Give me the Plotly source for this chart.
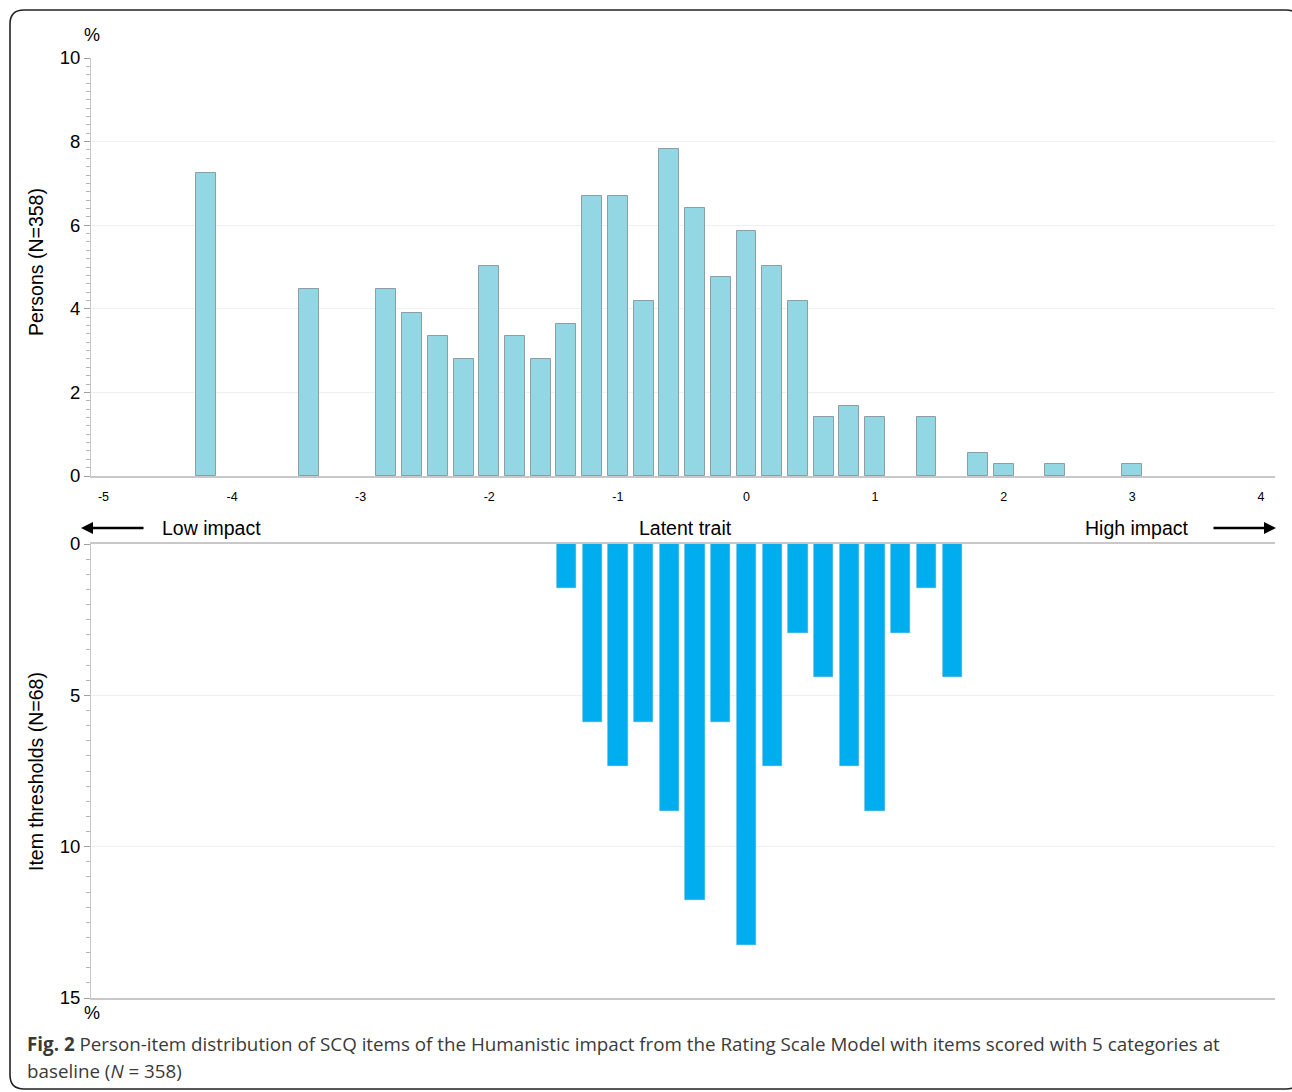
import plotly.graph_objects as go

# Person locations (latent trait bins, logits) and percentage of persons per bin
person_bins = [-4.2, -3.4, -2.8, -2.6, -2.4, -2.2, -2.0, -1.8, -1.6, -1.4, -1.2, -1.0, -0.8,
               -0.6, -0.4, -0.2, 0.0, 0.2, 0.4, 0.6, 0.8, 1.0, 1.4, 1.8, 2.0, 2.4, 3.0]
person_pct = [7.26, 4.47, 4.47, 3.91, 3.35, 2.79, 5.03, 3.35, 2.79, 3.63, 6.70, 6.70, 4.19,
              7.82, 6.42, 4.75, 5.87, 5.03, 4.19, 1.40, 1.68, 1.40, 1.40, 0.56, 0.28, 0.28, 0.28]

# Item threshold locations and percentage of thresholds per bin
item_bins = [-1.4, -1.2, -1.0, -0.8, -0.6, -0.4, -0.2, 0.0, 0.2, 0.4, 0.6, 0.8, 1.0, 1.2, 1.4, 1.6]
item_pct = [1.47, 5.88, 7.35, 5.88, 8.82, 11.76, 5.88, 13.24, 7.35, 2.94, 4.41, 7.35, 8.82,
            2.94, 1.47, 4.41]

x_ticks = [-5, -4, -3, -2, -1, 0, 1, 2, 3, 4]
person_yticks = [0, 2, 4, 6, 8, 10]
item_yticks = [0, 5, 10, 15]

W, H = 1292, 1092
AX_FONT = "Liberation Sans, Arial, sans-serif"
CAP_FONT = "Open Sans, Noto Sans, sans-serif"
AXIS_GREY = "#c8c8c8"


def px(x):
    return x / W


def py(y):
    return 1 - y / H


fig = go.Figure()

fig.add_trace(go.Bar(
    x=person_bins, y=person_pct, width=0.155,
    marker=dict(color="#94d7e4", line=dict(color="#8a9ea4", width=1)),
    xaxis="x", yaxis="y", showlegend=False,
))
fig.add_trace(go.Bar(
    x=item_bins, y=item_pct, width=0.15,
    marker=dict(color="#00aeef", line=dict(color="#3fa9d6", width=0.6)),
    xaxis="x2", yaxis="y2", showlegend=False,
))

x_range = [-5.097, 4.11]
x_domain = [px(91), px(1275)]

fig.update_layout(
    width=W, height=H,
    margin=dict(l=0, r=0, t=0, b=0, pad=0, autoexpand=False),
    paper_bgcolor="white", plot_bgcolor="white",
    bargap=0,
    font=dict(family=AX_FONT, color="#000000"),
    xaxis=dict(
        domain=x_domain, range=x_range, anchor="y", automargin=False,
        tickvals=x_ticks, ticktext=[str(v) for v in x_ticks],
        tickfont=dict(size=12.5, family=AX_FONT), ticks="", ticklabelstandoff=8,
        showgrid=False, zeroline=False,
        showline=True, linecolor=AXIS_GREY, linewidth=1.5,
    ),
    yaxis=dict(
        domain=[py(476), py(58)], range=[0, 10], anchor="x", automargin=False,
        tickvals=person_yticks, tickfont=dict(size=18.5, family=AX_FONT),
        ticks="outside", ticklen=6, tickcolor="#a0a0a0", tickwidth=1,
        minor=dict(dtick=0.2, ticks="outside", ticklen=4, tickcolor="#b4b4b4",
                   tickwidth=1, showgrid=False),
        showgrid=True, gridcolor="#f0f0f0", gridwidth=1,
        zeroline=False, showline=True, linecolor=AXIS_GREY, linewidth=1,
    ),
    xaxis2=dict(
        domain=x_domain, range=x_range, anchor="y2", automargin=False,
        showticklabels=False, ticks="",
        showgrid=False, zeroline=False,
        showline=True, mirror=True, linecolor=AXIS_GREY, linewidth=1.5,
    ),
    yaxis2=dict(
        domain=[py(998), py(544)], range=[15, 0], anchor="x2", automargin=False,
        tickvals=item_yticks, tickfont=dict(size=18.5, family=AX_FONT),
        ticks="outside", ticklen=6, tickcolor="#a0a0a0", tickwidth=1,
        minor=dict(dtick=0.5, ticks="outside", ticklen=4, tickcolor="#b4b4b4",
                   tickwidth=1, showgrid=False),
        showgrid=True, gridcolor="#f0f0f0", gridwidth=1,
        zeroline=False, showline=True, linecolor=AXIS_GREY, linewidth=1,
    ),
)

ann = []


def text(x, y, s, size=18, xanchor="center", angle=0, family=AX_FONT, color="#000000"):
    ann.append(dict(x=px(x), y=py(y), xref="paper", yref="paper", text=s,
                    showarrow=False, xanchor=xanchor, yanchor="middle",
                    textangle=angle, font=dict(size=size, family=family, color=color)))


text(92, 35, "%", size=18)
text(92, 1013, "%", size=18)
text(36, 262, "Persons (N=358)", size=19.5, angle=-90)
text(36, 772, "Item thresholds (N=68)", size=19.5, angle=-90)
text(211, 528, "Low impact", size=19.5)
text(685, 528, "Latent trait", size=19.5)
text(1137, 528, "High impact", size=19.5)

# direction arrows along the latent trait
for tip, offset in [(81, 64), (1276, -64)]:
    ann.append(dict(x=px(tip), y=py(528), xref="paper", yref="paper", text="",
                    showarrow=True, ax=offset, ay=0, arrowhead=2, arrowsize=1,
                    arrowwidth=2.4, arrowcolor="#000000"))

# figure caption
ann.append(dict(
    x=px(25), y=py(1044), xref="paper", yref="paper", xanchor="left", yanchor="middle",
    showarrow=False, align="left",
    text="<b>Fig. 2</b> Person-item distribution of SCQ items of the Humanistic impact from the "
         "Rating Scale Model with items scored with 5 categories at",
    font=dict(size=18.8, family=CAP_FONT, color="#3a3a3a"),
))
ann.append(dict(
    x=px(25), y=py(1071), xref="paper", yref="paper", xanchor="left", yanchor="middle",
    showarrow=False, align="left",
    text="baseline (<i>N</i> = 358)",
    font=dict(size=18.8, family=CAP_FONT, color="#3a3a3a"),
))
fig.update_layout(annotations=ann)

# rounded frame around the figure panel
L, T, R, B, r = 10, 10, 1300, 1089, 14
frame = (f"M {px(L)},{py(T + r)} Q {px(L)},{py(T)} {px(L + r)},{py(T)} "
         f"L {px(R - r)},{py(T)} Q {px(R)},{py(T)} {px(R)},{py(T + r)} "
         f"L {px(R)},{py(B - r)} Q {px(R)},{py(B)} {px(R - r)},{py(B)} "
         f"L {px(L + r)},{py(B)} Q {px(L)},{py(B)} {px(L)},{py(B - r)} Z")
fig.add_shape(type="path", path=frame, xref="paper", yref="paper",
              line=dict(color="#222222", width=1.6), layer="above")

fig.write_html("out.html")
